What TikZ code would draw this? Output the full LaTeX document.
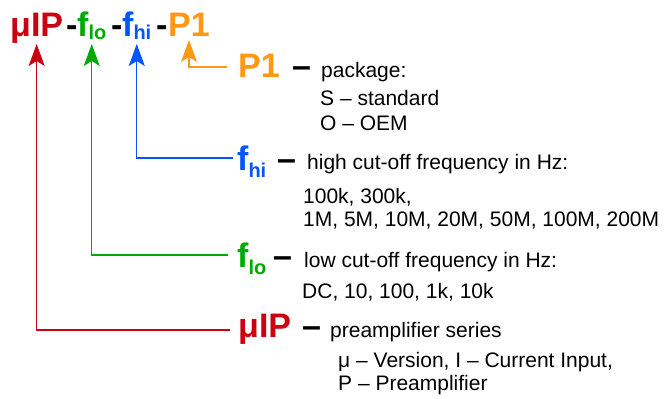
\documentclass[tikz,border=0pt]{standalone}
\usepackage{fontspec}
\setmainfont{Liberation Sans}
\usetikzlibrary{arrows.meta}
\definecolor{cred}{RGB}{204,0,16}
\definecolor{cgreen}{RGB}{0,170,0}
\definecolor{cblue}{RGB}{0,85,255}
\definecolor{corange}{RGB}{255,152,20}
\newcommand\subT[1]{\raisebox{-3pt}{\fontsize{20}{20}\selectfont #1}}
\newcommand\subL[1]{\raisebox{-7pt}{\fontsize{20}{20}\selectfont #1}}
\begin{document}
\begin{tikzpicture}[x=1pt,y=-1pt,
  txt/.style={anchor=base west, inner sep=0pt, font=\fontsize{21}{25}\selectfont},
  big/.style={anchor=base west, inner sep=0pt, font=\fontsize{34}{36}\selectfont\bfseries},
  bar/.style={anchor=base west, inner sep=0pt, font=\fontsize{34}{36}\selectfont\bfseries},
  conn/.style={line width=1.3pt, -{Stealth[length=22pt,width=16pt,inset=5pt]}}]
\useasboundingbox (0,0) rectangle (665,399);

% title
\node[big,text=cred] (t1) at (10,36) {μIP};
\node[big] (h1) at (66,36) {-};
\node[big,text=cgreen] (t2) at (77,36) {f\subT{lo}};
\node[big] (h2) at (111,36) {-};
\node[big,text=cblue] (t3) at (122,36) {f\subT{hi}};
\node[big] (h3) at (156,36) {-};
\node[big,text=corange] (t4) at (168,36) {P1};

\coordinate (a1) at (t1.center |- 0,44);
\coordinate (a2) at (t2.center |- 0,44);
\coordinate (a3) at (t3.center |- 0,44);
\coordinate (a4) at (t4.center |- 0,40);

% P1
\node[big,text=corange] (l4) at (238,77) {P1};
\node[bar] (d4) at (292,77) {–};
\node[txt] (p1) at (321,77) {package:};
\node[txt] (p2) at (320,105) {S – standard};
\node[txt] (p3) at (320,130) {O – OEM};

% f_hi
\node[big,text=cblue] (l3) at (237,170) {f\subL{hi}};
\node[bar] (d3) at (277,170) {–};
\node[txt] (q1) at (307,169) {high cut-off frequency in Hz:};
\node[txt] (q2) at (303,203) {100k, 300k,};
\node[txt] (q3) at (303,226) {1M, 5M, 10M, 20M, 50M, 100M, 200M};

% f_lo
\node[big,text=cgreen] (l2) at (237,267) {f\subL{lo}};
\node[bar] (d2) at (273,267) {–};
\node[txt] (r1) at (304,267) {low cut-off frequency in Hz:};
\node[txt] (r2) at (302,298) {DC, 10, 100, 1k, 10k};

% muIP
\node[big,text=cred] (l1) at (238,337) {μIP};
\node[bar] (d1) at (302,337) {–};
\node[txt] (s1) at (330,337) {preamplifier series};
\node[txt] (s2) at (338,367) {μ – Version, I – Current Input,};
\node[txt] (s3) at (338,390) {P – Preamplifier};

% connectors
\draw[conn,cred] ([shift={(-8,-7)}]l1.base west) -| (a1);
\draw[conn,cgreen] ([shift={(-9,-12)}]l2.base west) -| (a2);
\draw[conn,cblue] ([shift={(-4,-12)}]l3.base west) -| (a3);
\draw[conn,corange] ([shift={(-11,-10)}]l4.base west) -| (a4);
\end{tikzpicture}
\end{document}
